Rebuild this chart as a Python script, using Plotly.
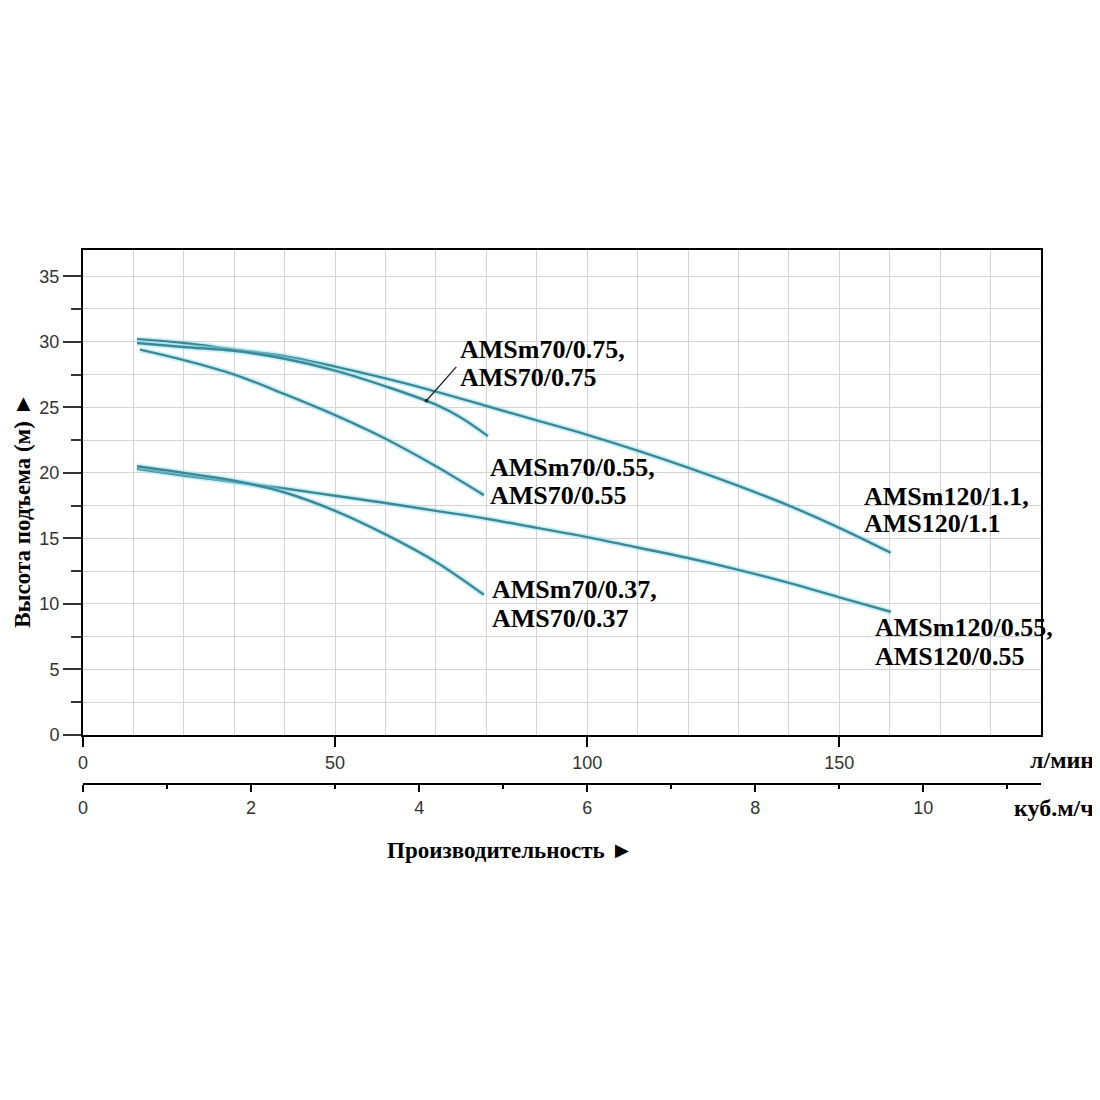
import plotly.graph_objects as go

# flow, l/min  /  head, m
q_120_11 = [10.7, 20, 30, 40, 50, 60, 70, 80, 90, 100, 110, 120, 130, 140, 150, 160.2]
h_120_11 = [30.2, 29.9, 29.4, 28.9, 28.1, 27.2, 26.2, 25.1, 24.0, 22.9, 21.7, 20.4, 19.0, 17.5, 15.8, 13.9]

q_70_075 = [10.7, 20, 30, 40, 50, 60, 70, 75, 80.3]
h_70_075 = [29.9, 29.6, 29.3, 28.7, 27.8, 26.6, 25.2, 24.2, 22.8]

q_70_055 = [11.3, 20, 30, 40, 50, 60, 70, 79.5]
h_70_055 = [29.4, 28.6, 27.5, 26.0, 24.4, 22.6, 20.5, 18.3]

q_120_055 = [10.7, 20, 30, 40, 50, 60, 70, 80, 90, 100, 110, 120, 130, 140, 150, 160.2]
h_120_055 = [20.3, 19.8, 19.3, 18.8, 18.25, 17.7, 17.1, 16.5, 15.8, 15.1, 14.3, 13.5, 12.6, 11.6, 10.5, 9.4]

q_70_037 = [10.7, 20, 30, 40, 50, 60, 70, 79.5]
h_70_037 = [20.5, 20.0, 19.4, 18.5, 17.1, 15.3, 13.2, 10.7]

curves = [
    (q_120_11, h_120_11),
    (q_70_075, h_70_075),
    (q_70_055, h_70_055),
    (q_120_055, h_120_055),
    (q_70_037, h_70_037),
]

# label lines: text, left x (l/min), y of first and second line (m)
labels = [
    ("AMSm70/0.75,", "AMS70/0.75", 74.4, 29.4, 27.25),
    ("AMSm70/0.55,", "AMS70/0.55", 80.3, 20.4, 18.3),
    ("AMSm70/0.37,", "AMS70/0.37", 80.7, 11.1, 8.9),
    ("AMSm120/1.1,", "AMS120/1.1", 154.5, 18.2, 16.1),
    ("AMSm120/0.55,", "AMS120/0.55", 156.7, 8.2, 6.0),
]

X_MAX = 190
LPM_PER_M3H = 1000 / 60

fig = go.Figure()

for q, h in curves:
    # soft cyan halo under the line, like the scanned original
    fig.add_trace(go.Scatter(x=q, y=h, mode="lines", line_shape="spline",
                             line=dict(color="rgba(140,225,240,0.45)", width=6),
                             hoverinfo="skip", showlegend=False))
    fig.add_trace(go.Scatter(x=q, y=h, mode="lines", line_shape="spline",
                             line=dict(color="#3f8795", width=2.4),
                             showlegend=False))

serif = dict(family="Liberation Serif", size=26, color="black")

for line1, line2, x, y1, y2 in labels:
    for txt, y in ((line1, y1), (line2, y2)):
        fig.add_annotation(x=x, y=y, text="<b>" + txt + "</b>", showarrow=False,
                           xanchor="left", yanchor="middle", font=serif)

# pointer to the 0.75 curve
fig.add_annotation(x=68.1, y=25.5, ax=74.3, ay=28.2, axref="x", ayref="y",
                   text="", showarrow=True, arrowhead=6, arrowsize=0.7,
                   arrowwidth=1.3, arrowcolor="#222")

# axis titles and units
title_font = dict(family="Liberation Serif", size=23, color="black")
unit_font = dict(family="Liberation Serif", size=24, color="black")
fig.add_annotation(xref="paper", yref="paper", x=-0.064, y=0.513,
                   xanchor="center", yanchor="middle",
                   text="<b>Высота подъема (м) ►</b>", textangle=-90, showarrow=False,
                   font=title_font)
fig.add_annotation(xref="paper", yref="paper", x=0.4457, y=-0.124,
                   xanchor="center", yanchor="middle",
                   text="<b>Производительность ►</b>", showarrow=False,
                   font=title_font)
fig.add_annotation(xref="paper", yref="paper", x=1.057, y=0.045,
                   xanchor="right", yanchor="middle",
                   text="<b>л/мин</b>", showarrow=False, font=unit_font)
fig.add_annotation(xref="paper", yref="paper", x=1.057, y=-0.045,
                   xanchor="right", yanchor="middle",
                   text="<b>куб.м/ч</b>", showarrow=False, font=unit_font)

tickfont = dict(family="Liberation Sans", size=18, color="#333")
grid = "#d4d4d4"

fig.update_layout(
    width=1100, height=1100,
    margin=dict(l=75, r=67, t=242, b=324),
    plot_bgcolor="white", paper_bgcolor="white",
    xaxis=dict(range=[0, X_MAX], dtick=50, tick0=0, anchor="y",
               showline=True, linecolor="black", linewidth=2, mirror=True,
               ticks="outside", ticklen=10, tickwidth=1.5, tickcolor="black",
               tickfont=tickfont, showgrid=True, gridcolor=grid, gridwidth=1,
               zeroline=False,
               minor=dict(dtick=10, showgrid=True, gridcolor=grid, ticks="")),
    xaxis2=dict(range=[0, X_MAX / LPM_PER_M3H], dtick=2, tick0=0,
                overlaying="x", anchor="free", position=0, side="bottom",
                showline=True, linecolor="black", linewidth=2,
                ticks="outside", ticklen=7, tickwidth=1.5, tickcolor="black",
                tickfont=tickfont, showgrid=False, zeroline=False,
                minor=dict(dtick=1, ticks="outside", ticklen=4, tickcolor="black")),
    yaxis=dict(range=[0, 37], dtick=5, tick0=0, domain=[0.0918, 1],
               showline=True, linecolor="black", linewidth=2, mirror=True,
               ticks="outside", ticklen=18, tickwidth=1.5, tickcolor="#333",
               tickfont=tickfont, showgrid=True, gridcolor=grid, gridwidth=1,
               zeroline=False,
               minor=dict(dtick=2.5, showgrid=True, gridcolor=grid,
                          ticks="outside", ticklen=10, tickcolor="#333")),
)

# empty trace so the second flow axis is drawn
fig.add_trace(go.Scatter(x=[0], y=[0], xaxis="x2", mode="markers",
                         marker=dict(opacity=0), hoverinfo="skip", showlegend=False))

fig.write_html("out.html")
